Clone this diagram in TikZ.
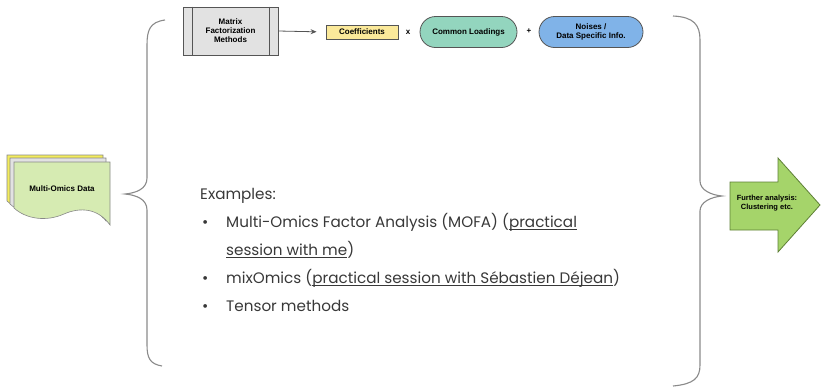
\documentclass[tikz,border=0pt]{standalone}
\usepackage{fontspec}
\setmainfont{Poppins}
\newfontfamily\lab{Liberation Sans}
\usetikzlibrary{arrows.meta}
\newcommand\ulx[1]{\setbox0\hbox{#1}\rlap{\rule[-2.4pt]{\wd0}{0.7pt}}\box0}
\definecolor{braceg}{HTML}{8A8A8A}
\definecolor{boxg}{HTML}{E2E2E2}
\definecolor{edge}{HTML}{555555}
\definecolor{coefy}{HTML}{FBE99A}
\definecolor{loadt}{HTML}{93D5BE}
\definecolor{noiseb}{HTML}{80B3E8}
\definecolor{docg}{HTML}{D6EBB2}
\definecolor{docy}{HTML}{F3EC5C}
\definecolor{arrg}{HTML}{A5D46A}
\definecolor{arrd}{HTML}{5E7F36}
\definecolor{txt}{HTML}{383838}
\begin{document}
\begin{tikzpicture}[x=1pt,y=-1pt,
  lbl/.style={font=\lab\bfseries\fontsize{8}{9}\selectfont,text=black,align=center,inner sep=0pt},
  pill/.style={lbl,draw=edge,line width=0.8pt,rounded corners=15.5pt,minimum height=31pt},
  brace/.style={draw=braceg,line width=1.1pt},
  body/.style={font=\fontsize{15.2}{17}\selectfont,text=txt,anchor=base west,inner sep=0pt},
  doc/.style={draw=edge!70,line width=0.6pt}]
\useasboundingbox (0,0) rectangle (821,389);
% left brace
\draw[brace] (165,20) .. controls (150,22) and (147,30) .. (147,45) -- (147,178)
  .. controls (147,189) and (136,193) .. (125,194)
  .. controls (136,195) and (147,199) .. (147,210) -- (147,345)
  .. controls (147,358) and (150,364) .. (162,366);
% right brace
\draw[brace] (673,16) .. controls (694,17) and (700,25) .. (700,40) -- (700,181)
  .. controls (700,190) and (711,195) .. (722,196)
  .. controls (711,197) and (700,202) .. (700,211) -- (700,365)
  .. controls (700,378) and (694,384) .. (673,386);
% documents
\foreach \dx/\col in {-7/docy,-4/boxg,0/docg}{
  \draw[doc,fill=\col,shift={(\dx,\dx)}] (14,162) -- (110,162) -- (110,225)
    .. controls (98,208) and (80,207) .. (64,214)
    .. controls (46,222) and (26,219) .. (14,208) -- cycle;
}
\node[lbl] (data) at (62,189) {Multi-Omics Data};
% matrix factorization box
\node[lbl,draw=edge,fill=boxg,line width=0.8pt,minimum width=95pt,minimum height=48pt] (mf) at (230.5,31) {Matrix\\Factorization\\Methods};
\draw[edge,line width=0.8pt] ([xshift=10pt]mf.north west) -- ([xshift=10pt]mf.south west)
  ([xshift=-9pt]mf.north east) -- ([xshift=-9pt]mf.south east);
\node[lbl,draw=edge,fill=coefy,line width=0.8pt,minimum width=72pt,minimum height=14pt] (coef) at (362,32) {Coefficients};
\draw[-{Stealth[length=6pt,width=5pt]},line width=0.8pt,edge,shorten >=9pt] (mf.east) -- (coef.west);
\node[lbl] (times) at (408,32) {x};
\node[pill,fill=loadt,minimum width=97pt] (load) at (468.5,32) {Common Loadings};
\node[lbl] (plus) at (529,31) {+};
\node[pill,fill=noiseb,minimum width=104pt] (noise) at (591,32) {Noises /\\Data Specific Info.};
% further analysis arrow
\draw[draw=arrd,fill=arrg,line width=0.8pt] (730,182) -- (778,182) -- (778,158) -- (820,205)
  -- (778,252) -- (778,230) -- (730,230) -- cycle;
\node[lbl,font=\lab\bfseries\fontsize{7.5}{8.5}\selectfont] (further) at (767,203) {Further analysis:\\Clustering etc.};
% examples text
\node[body] (ex) at (200,199) {Examples:};
\node[body] (b1) at (202,227) {\textbullet};
\node[body] (t1a) at (226,227) {Multi-Omics Factor Analysis (MOFA) (\ulx{practical}};
\node[body] (t1b) at (226,255) {\ulx{session with me})};
\node[body] (b2) at (202,283) {\textbullet};
\node[body] (t2) at (226,283) {mixOmics (\ulx{practical session with Sébastien Déjean})};
\node[body] (b3) at (202,311) {\textbullet};
\node[body] (t3) at (226,311) {Tensor methods};
\end{tikzpicture}
\end{document}
